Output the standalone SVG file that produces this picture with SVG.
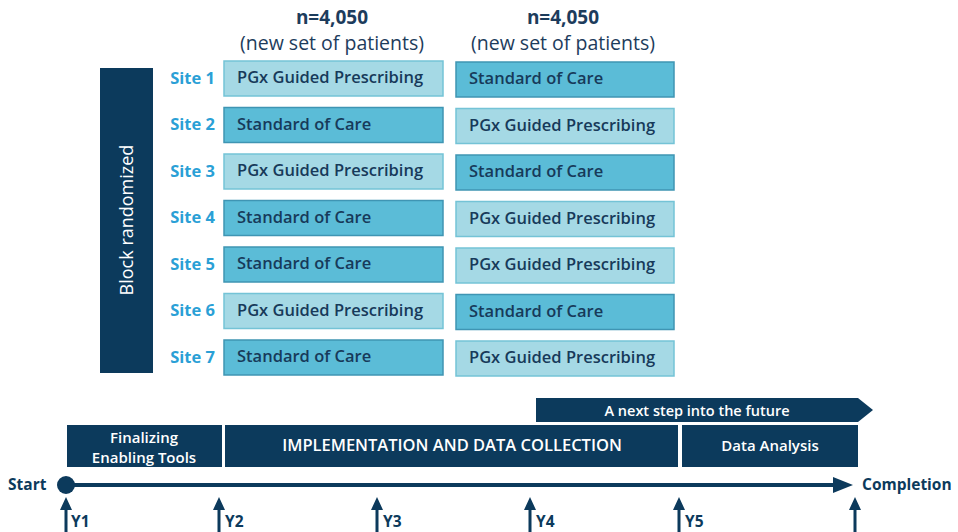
<svg xmlns="http://www.w3.org/2000/svg" width="958" height="532" viewBox="0 0 958 532">
  <style>
    .hdr { font-family: "Open Sans", "Liberation Sans", sans-serif; fill: #1d3c5c; text-anchor: middle; }
    .site { font-family: "Open Sans", "Liberation Sans", sans-serif; font-weight: 700; font-size: 16.5px; fill: #2aa0d6; text-anchor: end; }
    .pgx rect { fill: #a5d9e5; stroke: #74c3d6; stroke-width: 1.5; }
    .soc rect { fill: #5bbcd7; stroke: #3f95b3; stroke-width: 1.5; }
    .lbl { font-family: "Open Sans", "Liberation Sans", sans-serif; font-weight: 600; font-size: 16.5px; fill: #173a5a; }
    .band { fill: #0c3a5c; }
    .wt { font-family: "Open Sans", "Liberation Sans", sans-serif; font-weight: 600; fill: #ffffff; text-anchor: middle; }
    .wt.thin { font-weight: 400; }
    .tl { font-family: "Open Sans", "Liberation Sans", sans-serif; font-weight: 700; font-size: 15.5px; fill: #0c3a5c; }
    .tick { fill: #0c3a5c; }
  </style>
  <defs>
    <!-- upward year marker: head plus shaft -->
    <path id="up-arrow" d="M0,0 L6,13 L1.5,13 L1.5,40 L-1.5,40 L-1.5,13 L-6,13 Z"/>
  </defs>

  <!-- column headers -->
  <g id="header-left">
    <text class="hdr" x="332" y="24" font-size="19" font-weight="700">n=4,050</text>
    <text class="hdr" x="332" y="50" font-size="19.5">(new set of patients)</text>
  </g>
  <g id="header-right">
    <text class="hdr" x="563" y="24" font-size="19" font-weight="700">n=4,050</text>
    <text class="hdr" x="563" y="50" font-size="19.5">(new set of patients)</text>
  </g>

  <!-- randomization bar -->
  <g id="block-randomized">
    <rect class="band" x="100" y="68" width="53" height="305"/>
    <text class="wt thin" transform="translate(133,220) rotate(-90)" font-size="18">Block randomized</text>
  </g>

  <!-- site rows -->
  <g id="site-1">
    <text class="site" x="215" y="84">Site 1</text>
    <g class="pgx"><rect x="224" y="61" width="219" height="35"/><text class="lbl" x="237" y="83">PGx Guided Prescribing</text></g>
    <g class="soc"><rect x="456" y="62" width="218" height="35"/><text class="lbl" x="469" y="84">Standard of Care</text></g>
  </g>
  <g id="site-2">
    <text class="site" x="215" y="130">Site 2</text>
    <g class="soc"><rect x="224" y="107.5" width="219" height="35"/><text class="lbl" x="237" y="129.5">Standard of Care</text></g>
    <g class="pgx"><rect x="456" y="108.5" width="218" height="35"/><text class="lbl" x="469" y="130.5">PGx Guided Prescribing</text></g>
  </g>
  <g id="site-3">
    <text class="site" x="215" y="177">Site 3</text>
    <g class="pgx"><rect x="224" y="154" width="219" height="35"/><text class="lbl" x="237" y="176">PGx Guided Prescribing</text></g>
    <g class="soc"><rect x="456" y="155" width="218" height="35"/><text class="lbl" x="469" y="177">Standard of Care</text></g>
  </g>
  <g id="site-4">
    <text class="site" x="215" y="223">Site 4</text>
    <g class="soc"><rect x="224" y="200.5" width="219" height="35"/><text class="lbl" x="237" y="222.5">Standard of Care</text></g>
    <g class="pgx"><rect x="456" y="201.5" width="218" height="35"/><text class="lbl" x="469" y="223.5">PGx Guided Prescribing</text></g>
  </g>
  <g id="site-5">
    <text class="site" x="215" y="270">Site 5</text>
    <g class="soc"><rect x="224" y="247" width="219" height="35"/><text class="lbl" x="237" y="269">Standard of Care</text></g>
    <g class="pgx"><rect x="456" y="248" width="218" height="35"/><text class="lbl" x="469" y="270">PGx Guided Prescribing</text></g>
  </g>
  <g id="site-6">
    <text class="site" x="215" y="316">Site 6</text>
    <g class="pgx"><rect x="224" y="293.5" width="219" height="35"/><text class="lbl" x="237" y="315.5">PGx Guided Prescribing</text></g>
    <g class="soc"><rect x="456" y="294.5" width="218" height="35"/><text class="lbl" x="469" y="316.5">Standard of Care</text></g>
  </g>
  <g id="site-7">
    <text class="site" x="215" y="363">Site 7</text>
    <g class="soc"><rect x="224" y="340" width="219" height="35"/><text class="lbl" x="237" y="362">Standard of Care</text></g>
    <g class="pgx"><rect x="456" y="341" width="218" height="35"/><text class="lbl" x="469" y="363">PGx Guided Prescribing</text></g>
  </g>

  <!-- phase bands -->
  <g id="next-step">
    <path class="band" d="M536,398 L858,398 L873,410 L858,422 L536,422 Z"/>
    <text class="wt" x="697" y="415.5" font-size="14.5">A next step into the future</text>
  </g>
  <g id="finalizing">
    <rect class="band" x="67" y="425" width="155" height="42"/>
    <text class="wt" x="144" y="443" font-size="15">Finalizing</text>
    <text class="wt" x="144" y="463" font-size="15">Enabling Tools</text>
  </g>
  <g id="implementation">
    <rect class="band" x="225" y="425" width="453" height="42"/>
    <text class="wt" x="452" y="451" font-size="16.5">IMPLEMENTATION AND DATA COLLECTION</text>
  </g>
  <g id="data-analysis">
    <rect class="band" x="682" y="425" width="176" height="42"/>
    <text class="wt" x="770" y="451" font-size="15">Data Analysis</text>
  </g>

  <!-- timeline -->
  <g id="timeline">
    <text class="tl" x="8" y="490">Start</text>
    <circle cx="66" cy="485" r="9" fill="#0c3a5c"/>
    <line x1="66" y1="485" x2="836" y2="485" stroke="#0c3a5c" stroke-width="4"/>
    <path d="M833,477 L853,485 L833,493 Z" fill="#0c3a5c"/>
    <text class="tl" x="862" y="490">Completion</text>
  </g>

  <!-- year markers -->
  <g id="year-markers">
    <use class="tick" href="#up-arrow" x="66" y="497"/>
    <text class="tl" x="71" y="527">Y1</text>
    <use class="tick" href="#up-arrow" x="219" y="497"/>
    <text class="tl" x="225" y="527">Y2</text>
    <use class="tick" href="#up-arrow" x="377" y="497"/>
    <text class="tl" x="383" y="527">Y3</text>
    <use class="tick" href="#up-arrow" x="530" y="497"/>
    <text class="tl" x="536" y="527">Y4</text>
    <use class="tick" href="#up-arrow" x="679" y="497"/>
    <text class="tl" x="685" y="527">Y5</text>
    <use class="tick" href="#up-arrow" x="855" y="497"/>
  </g>
</svg>
